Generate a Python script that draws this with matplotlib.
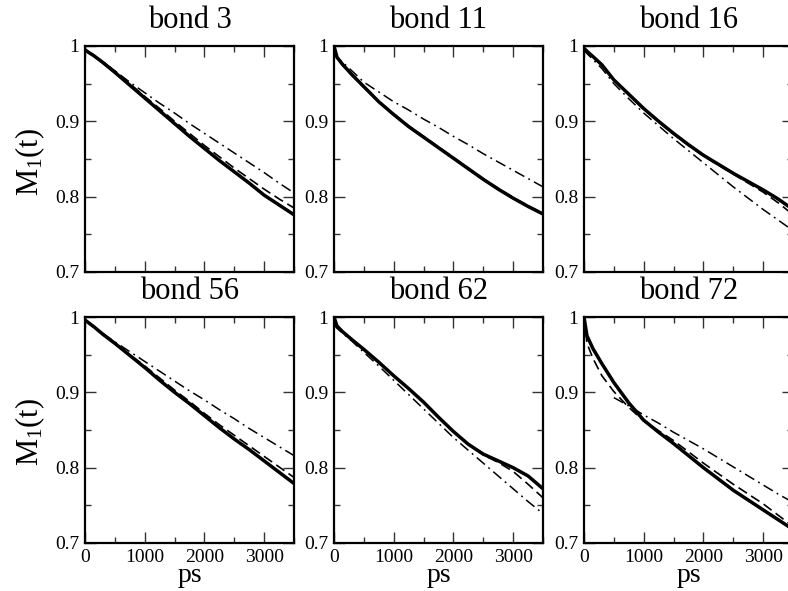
import numpy as np
import matplotlib
matplotlib.use("Agg")
import matplotlib.pyplot as plt
from matplotlib.ticker import MultipleLocator, FormatStrFormatter

plt.rcParams['font.family'] = ['Liberation Serif', 'DejaVu Serif']
plt.rcParams['mathtext.fontset'] = 'custom'
plt.rcParams['mathtext.rm'] = 'Liberation Serif'
plt.rcParams['mathtext.it'] = 'Liberation Serif:italic'

titles = ["bond 3", "bond 11", "bond 16", "bond 56", "bond 62", "bond 72"]
t = [0, 50, 150, 300, 500, 750, 1000, 1250, 1500, 1750, 2000, 2250, 2500, 2750, 3000, 3250, 3500]

# bond 3
b3_solid = [0.995, 0.992, 0.987, 0.978, 0.965, 0.948, 0.931, 0.914, 0.897, 0.880, 0.864, 0.848, 0.833, 0.818, 0.802, 0.789, 0.776]
b3_dash  = [0.996, 0.993, 0.988, 0.979, 0.967, 0.950, 0.933, 0.917, 0.900, 0.884, 0.868, 0.853, 0.838, 0.824, 0.810, 0.797, 0.785]
b3_dd    = [0.995, 0.992, 0.987, 0.979, 0.967, 0.952, 0.938, 0.924, 0.911, 0.897, 0.884, 0.871, 0.858, 0.845, 0.832, 0.818, 0.805]
# bond 11
b11_solid = [1.000, 0.985, 0.975, 0.962, 0.946, 0.926, 0.909, 0.893, 0.879, 0.865, 0.851, 0.837, 0.823, 0.810, 0.798, 0.787, 0.777]
b11_dash  = [0.998, 0.983, 0.974, 0.961, 0.945, 0.926, 0.910, 0.894, 0.880, 0.866, 0.852, 0.838, 0.824, 0.811, 0.799, 0.788, 0.778]
b11_dd    = [0.990, 0.985, 0.978, 0.967, 0.952, 0.939, 0.926, 0.915, 0.903, 0.892, 0.880, 0.869, 0.857, 0.846, 0.835, 0.824, 0.813]
# bond 16
b16_solid = [0.997, 0.993, 0.986, 0.975, 0.955, 0.936, 0.917, 0.900, 0.884, 0.869, 0.855, 0.843, 0.831, 0.820, 0.809, 0.797, 0.783]
b16_dash  = [0.996, 0.992, 0.985, 0.974, 0.955, 0.935, 0.916, 0.899, 0.883, 0.868, 0.854, 0.842, 0.830, 0.818, 0.806, 0.792, 0.776]
b16_dd    = [0.995, 0.990, 0.982, 0.970, 0.950, 0.930, 0.911, 0.894, 0.877, 0.861, 0.845, 0.829, 0.813, 0.798, 0.783, 0.769, 0.755]
# bond 56
b56_solid = [0.996, 0.993, 0.987, 0.977, 0.965, 0.949, 0.933, 0.916, 0.900, 0.885, 0.869, 0.853, 0.838, 0.824, 0.809, 0.794, 0.779]
b56_dash  = [0.996, 0.993, 0.987, 0.978, 0.966, 0.950, 0.935, 0.919, 0.903, 0.888, 0.872, 0.857, 0.843, 0.829, 0.815, 0.801, 0.787]
b56_dd    = [0.995, 0.992, 0.986, 0.978, 0.967, 0.954, 0.941, 0.928, 0.915, 0.902, 0.890, 0.877, 0.865, 0.852, 0.840, 0.828, 0.816]
# bond 62
b62_solid = [1.000, 0.988, 0.980, 0.970, 0.957, 0.940, 0.922, 0.905, 0.887, 0.867, 0.848, 0.831, 0.818, 0.809, 0.800, 0.789, 0.772]
b62_dash  = [1.000, 0.988, 0.980, 0.970, 0.957, 0.940, 0.922, 0.905, 0.887, 0.867, 0.848, 0.831, 0.817, 0.807, 0.795, 0.778, 0.760]
b62_dd    = [0.990, 0.985, 0.978, 0.968, 0.953, 0.935, 0.916, 0.897, 0.878, 0.859, 0.840, 0.823, 0.806, 0.789, 0.772, 0.755, 0.739]
# bond 72
b72_solid = [1.000, 0.975, 0.958, 0.938, 0.913, 0.886, 0.863, 0.847, 0.832, 0.816, 0.800, 0.785, 0.770, 0.757, 0.744, 0.731, 0.718]
b72_dash  = [1.000, 0.965, 0.945, 0.922, 0.901, 0.880, 0.862, 0.849, 0.836, 0.821, 0.806, 0.792, 0.778, 0.765, 0.752, 0.737, 0.722]
b72_dd    = [np.nan, np.nan, np.nan, np.nan, 0.893, 0.882, 0.870, 0.859, 0.847, 0.836, 0.825, 0.813, 0.801, 0.789, 0.777, 0.765, 0.754]

solids = [b3_solid, b11_solid, b16_solid, b56_solid, b62_solid, b72_solid]
dashes = [b3_dash, b11_dash, b16_dash, b56_dash, b62_dash, b72_dash]
dds = [b3_dd, b11_dd, b16_dd, b56_dd, b62_dd, b72_dd]

W, H = 788, 591
fig = plt.figure(figsize=(W / 100, H / 100), dpi=100)

lefts = [85, 334, 584]
tops = [46, 317]
aw, ah = 209, 226

for i in range(6):
    r, c = divmod(i, 3)
    l = lefts[c]
    tp = tops[r]
    ax = fig.add_axes([l / W, 1 - (tp + ah) / H, aw / W, ah / H])
    ax.plot(t, dds[i], color='black', lw=1.1, dashes=(7, 3, 1.2, 3))
    ax.plot(t, dashes[i], color='black', lw=1.2, dashes=(6, 3))
    ax.plot(t, solids[i], color='black', lw=2.5, solid_joinstyle='round')
    ax.set_xlim(0, 3500)
    ax.set_ylim(0.7, 1.0)
    ax.xaxis.set_major_locator(MultipleLocator(1000))
    ax.xaxis.set_minor_locator(MultipleLocator(500))
    ax.yaxis.set_major_locator(MultipleLocator(0.1))
    ax.yaxis.set_minor_locator(MultipleLocator(0.05))
    ax.yaxis.set_major_formatter(FormatStrFormatter('%g'))
    ax.tick_params(which='both', direction='in', top=True, right=True, width=1.0, color='#333333')
    ax.tick_params(which='major', length=8, labelsize=14, pad=4)
    ax.tick_params(axis='x', which='major', pad=4)
    ax.tick_params(which='minor', length=4.5)
    for s in ax.spines.values():
        s.set_linewidth(1.6)
    if r == 0:
        ax.tick_params(labelbottom=False)
    else:
        ax.set_xlabel('ps', fontsize=20, labelpad=-2)
    ax.set_title(titles[i], fontsize=22, pad=13)

fig.text(30 / W, 1 - 162 / H, r'$\mathrm{M_1(t)}$', rotation=90, ha='center', va='center', fontsize=22)
fig.text(30 / W, 1 - 432 / H, r'$\mathrm{M_1(t)}$', rotation=90, ha='center', va='center', fontsize=22)

fig.savefig('out.png', dpi=100)
